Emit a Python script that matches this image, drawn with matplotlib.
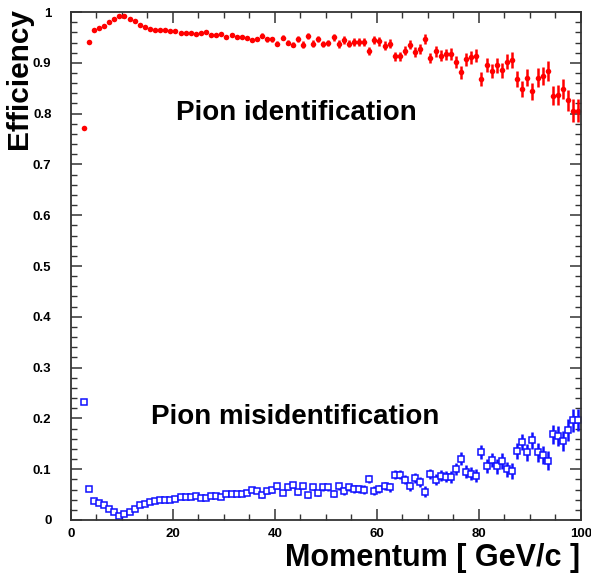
import numpy as np
import matplotlib
matplotlib.use("Agg")
import matplotlib.pyplot as plt
from matplotlib.ticker import MultipleLocator, FormatStrFormatter

plt.rcParams['font.family'] = ['Liberation Sans', 'DejaVu Sans']

# bin centres [GeV/c], 1 GeV bins from 2 to 100
momentum = np.arange(2.5, 100.0, 1.0)

pion_id = [
    0.772, 0.941, 0.965, 0.968, 0.972, 0.980, 0.987, 0.993, 0.992, 0.987,
    0.982, 0.974, 0.970, 0.966, 0.965, 0.965, 0.964, 0.963, 0.963, 0.958,
    0.958, 0.958, 0.956, 0.959, 0.960, 0.955, 0.954, 0.957, 0.951, 0.954,
    0.951, 0.951, 0.949, 0.945, 0.946, 0.953, 0.946, 0.946, 0.938, 0.949,
    0.940, 0.936, 0.947, 0.936, 0.953, 0.938, 0.947, 0.937, 0.939, 0.950,
    0.937, 0.945, 0.938, 0.941, 0.941, 0.941, 0.923, 0.945, 0.942, 0.934,
    0.938, 0.913, 0.913, 0.924, 0.936, 0.921, 0.928, 0.947, 0.910, 0.923,
    0.914, 0.917, 0.917, 0.902, 0.881, 0.907, 0.911, 0.914, 0.868, 0.896,
    0.884, 0.895, 0.885, 0.902, 0.905, 0.868, 0.848, 0.871, 0.844, 0.871,
    0.874, 0.884, 0.835, 0.837, 0.848, 0.826, 0.806, 0.806,
]
pion_id_err = [
    0.002, 0.002, 0.002, 0.002, 0.002, 0.002, 0.002, 0.002, 0.002, 0.002,
    0.002, 0.002, 0.002, 0.002, 0.002, 0.002, 0.002, 0.003, 0.003, 0.003,
    0.003, 0.003, 0.003, 0.003, 0.003, 0.003, 0.003, 0.004, 0.004, 0.004,
    0.004, 0.004, 0.004, 0.004, 0.004, 0.005, 0.005, 0.005, 0.005, 0.005,
    0.005, 0.005, 0.006, 0.006, 0.006, 0.006, 0.006, 0.006, 0.006, 0.007,
    0.007, 0.007, 0.007, 0.007, 0.007, 0.008, 0.008, 0.008, 0.008, 0.008,
    0.009, 0.009, 0.009, 0.009, 0.009, 0.010, 0.010, 0.010, 0.010, 0.011,
    0.011, 0.011, 0.012, 0.012, 0.012, 0.013, 0.013, 0.013, 0.014, 0.014,
    0.014, 0.015, 0.015, 0.015, 0.016, 0.016, 0.016, 0.017, 0.017, 0.018,
    0.018, 0.019, 0.019, 0.020, 0.020, 0.021, 0.022, 0.022,
]

pion_misid = [
    0.232, 0.061, 0.037, 0.034, 0.030, 0.022, 0.015, 0.008, 0.011, 0.016,
    0.022, 0.030, 0.032, 0.036, 0.037, 0.039, 0.039, 0.040, 0.041, 0.045,
    0.045, 0.045, 0.047, 0.044, 0.044, 0.048, 0.048, 0.046, 0.051, 0.051,
    0.052, 0.052, 0.054, 0.059, 0.057, 0.049, 0.057, 0.059, 0.066, 0.054,
    0.064, 0.068, 0.055, 0.067, 0.049, 0.065, 0.054, 0.064, 0.064, 0.052,
    0.066, 0.057, 0.064, 0.061, 0.061, 0.060, 0.080, 0.058, 0.061, 0.067,
    0.064, 0.089, 0.089, 0.079, 0.066, 0.082, 0.074, 0.056, 0.090, 0.079,
    0.087, 0.085, 0.084, 0.100, 0.121, 0.095, 0.091, 0.087, 0.134, 0.107,
    0.118, 0.106, 0.116, 0.100, 0.097, 0.136, 0.154, 0.133, 0.157, 0.133,
    0.128, 0.117, 0.169, 0.166, 0.156, 0.177, 0.196, 0.197,
]
pion_misid_err = pion_id_err

fig = plt.figure(figsize=(5.91, 5.73), dpi=100)
ax = fig.add_axes([0.120, 0.0925, 0.863, 0.8865])

ax.errorbar(momentum, pion_id, yerr=pion_id_err, fmt='o', color='#ff0000',
            markersize=4.0, elinewidth=1.8, capsize=0, markeredgewidth=0)
ax.errorbar(momentum, pion_misid, yerr=pion_misid_err, fmt='s', color='#1010ff',
            markersize=4.4, markerfacecolor='white', markeredgewidth=1.1,
            elinewidth=1.8, capsize=0)

ax.set_xlim(0, 100)
ax.set_ylim(0, 1)
ax.xaxis.set_major_locator(MultipleLocator(20))
ax.xaxis.set_minor_locator(MultipleLocator(5))
ax.yaxis.set_major_locator(MultipleLocator(0.1))
ax.yaxis.set_minor_locator(MultipleLocator(0.02))
ax.yaxis.set_major_formatter(FormatStrFormatter('%g'))
ax.tick_params(which='both', direction='in', top=True, right=True,
               color='#333333')
ax.tick_params(which='major', length=8, width=1.1)
ax.tick_params(which='minor', length=4, width=1.0)
ax.tick_params(axis='y', pad=14)
ax.tick_params(axis='x', pad=6)
for lab in ax.get_xticklabels() + ax.get_yticklabels():
    lab.set_fontsize(9.5)
    lab.set_fontweight('bold')
for sp in ax.spines.values():
    sp.set_color('#333333')
    sp.set_linewidth(1.3)

ax.text(44.3, 0.802, 'Pion identification', fontsize=20, fontweight='bold',
        ha='center', va='center')
ax.text(44.0, 0.202, 'Pion misidentification', fontsize=20, fontweight='bold',
        ha='center', va='center')

fig.text(19 / 591, 1 - 8 / 573, 'Efficiency', rotation=90, fontsize=21.5,
         fontweight='bold', ha='center', va='top')
fig.text(580 / 591, 1 - 558 / 573, 'Momentum [ GeV/c ]', fontsize=22,
         fontweight='bold', ha='right', va='center')

fig.savefig('out.png', dpi=100)
